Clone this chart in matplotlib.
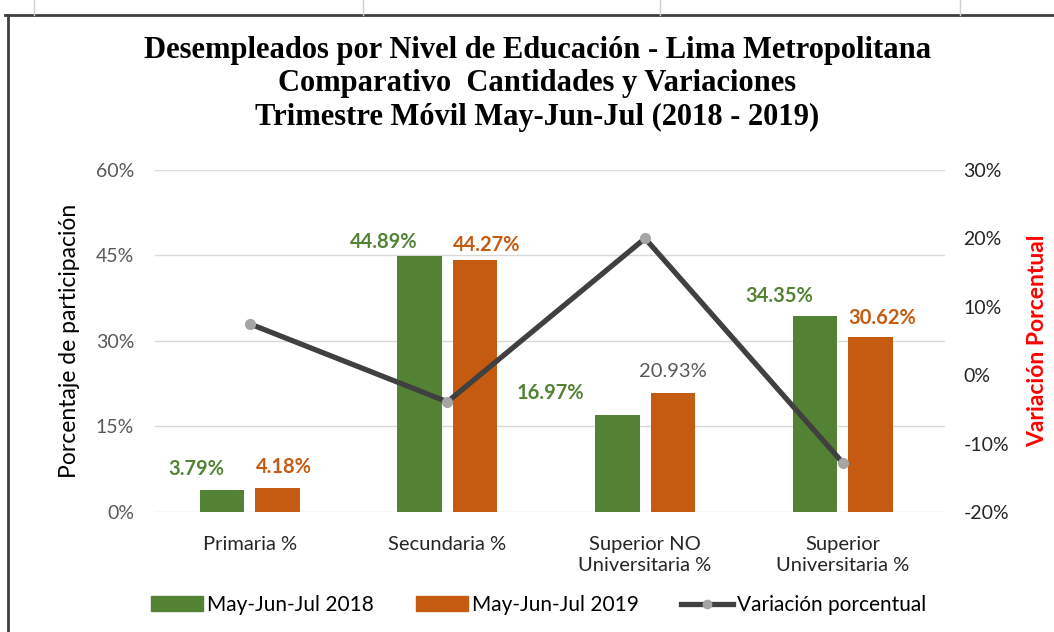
import numpy as np
import matplotlib.pyplot as plt
from matplotlib.lines import Line2D
from matplotlib.patches import Patch

# datos del grafico
categorias = ['Primaria %', 'Secundaria %', 'Superior NO\nUniversitaria %', 'Superior\nUniversitaria %']
part_2018 = [3.79, 44.89, 16.97, 34.35]
part_2019 = [4.18, 44.27, 20.93, 30.62]
variacion = [7.5, -3.9, 20.0, -12.8]

# desplazamiento manual de las etiquetas (x en categorias, y en puntos)
off_2018 = [-0.13, -0.18, -0.34, -0.18]
off_2019 = [0.03, 0.06, 0.0, 0.06]
dy_2018 = [8, 3, 9, 7]
dy_2019 = [8, 3, 9, 7]

verde = '#548235'
naranja = '#C55A11'
gris_linea = '#404040'

plt.rcParams['font.family'] = ['Lato', 'DejaVu Sans']

fig = plt.figure(figsize=(10.54, 6.32), dpi=100)
ax = fig.add_axes([0.147, 0.19, 0.75, 0.541])
ax2 = ax.twinx()

x = np.arange(len(categorias))
w = 0.225
gap = 0.028
ax.bar(x - w / 2 - gap, part_2018, w, color=verde, zorder=2)
ax.bar(x + w / 2 + gap, part_2019, w, color=naranja, zorder=2)

for i in range(len(x)):
    ax.annotate(f'{part_2018[i]:.2f}%', (x[i] - w / 2 - gap + off_2018[i], part_2018[i]),
                xytext=(0, dy_2018[i]), textcoords='offset points', ha='center', va='bottom',
                color=verde, fontsize=14.5, fontweight='bold')
    c = '#595959' if i == 2 else naranja
    fw = 'normal' if i == 2 else 'bold'
    ax.annotate(f'{part_2019[i]:.2f}%', (x[i] + w / 2 + gap + off_2019[i], part_2019[i]),
                xytext=(0, dy_2019[i]), textcoords='offset points', ha='center', va='bottom',
                color=c, fontsize=14.5, fontweight=fw)

ax2.plot(x, variacion, color=gris_linea, linewidth=3.8, marker='o', markersize=7,
         markerfacecolor='#A5A5A5', markeredgecolor='#A5A5A5', zorder=5)

ax.set_xlim(-0.48, 3.52)
ax.set_ylim(0, 60)
ax.set_yticks([0, 15, 30, 45, 60])
ax.set_yticklabels(['0%', '15%', '30%', '45%', '60%'])
ax2.set_ylim(-20, 30)
ax2.set_yticks([-20, -10, 0, 10, 20, 30])
ax2.set_yticklabels(['-20%', '-10%', '0%', '10%', '20%', '30%'])

ax.grid(axis='y', color='#D9D9D9', linewidth=1)
ax.set_axisbelow(True)
for a in (ax, ax2):
    for s in a.spines.values():
        s.set_visible(False)
    a.tick_params(length=0, labelsize=14, colors='#595959')
ax2.tick_params(colors='#262626', pad=13)
ax.tick_params(axis='y', pad=15)
ax.set_xticks(x)
ax.set_xticklabels(categorias, fontsize=14.5, color='#262626', linespacing=1.35)
ax.tick_params(axis='x', pad=17)

ax.set_ylabel('Porcentaje de participación', fontsize=16.5, color='black', labelpad=11)
ax2.set_ylabel('Variación Porcentual', fontsize=16.5, color='red', fontweight='bold', labelpad=13)

fig.text(0.51, 0.943, 'Desempleados por Nivel de Educación - Lima Metropolitana\n'
         'Comparativo  Cantidades y Variaciones\nTrimestre Móvil May-Jun-Jul (2018 - 2019)',
         ha='center', va='top', fontsize=22, fontweight='bold', family='Liberation Serif',
         linespacing=1.2)

handles = [Patch(color=verde), Patch(color=naranja),
           Line2D([0], [0], color=gris_linea, lw=3.8, marker='o', markersize=6,
                  markerfacecolor='#A5A5A5', markeredgecolor='#A5A5A5')]
fig.legend(handles, ['May-Jun-Jul 2018', 'May-Jun-Jul 2019', 'Variación porcentual'],
           loc='center', bbox_to_anchor=(0.511, 0.043), ncol=3, frameon=False,
           fontsize=15, handlelength=2.5, handleheight=0.7, columnspacing=2.0, handletextpad=0.2)

# borde del grafico (hoja de calculo)
fig.add_artist(Line2D([0.005, 1], [0.976, 0.976], color='#404040', lw=2, transform=fig.transFigure))
fig.add_artist(Line2D([0.008, 0.008], [0, 0.976], color='#404040', lw=2, transform=fig.transFigure))
for xc in [0.032, 0.344, 0.626, 0.911]:
    fig.add_artist(Line2D([xc, xc], [0.976, 1], color='#D0D0D0', lw=1, transform=fig.transFigure))

fig.savefig('out.png', dpi=100)
